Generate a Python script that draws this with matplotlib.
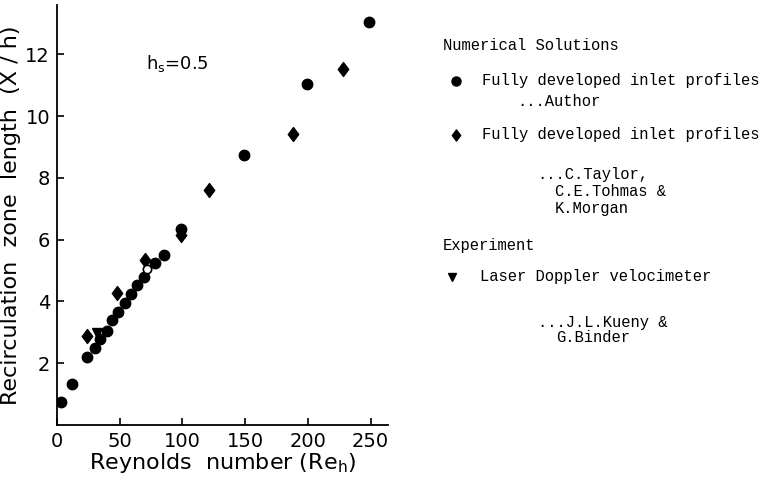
import matplotlib.pyplot as plt
from matplotlib.path import Path

# Numerical solutions, fully developed inlet profiles ... Author
re_author = [3, 12, 24, 30, 34, 40, 44, 49, 54, 59, 64, 69, 78, 85, 99, 149, 199, 249]
xh_author = [0.74, 1.32, 2.2, 2.48, 2.77, 3.05, 3.39, 3.66, 3.94, 4.23, 4.52, 4.78,
             5.25, 5.5, 6.34, 8.74, 11.03, 13.03]

# Numerical solutions ... C.Taylor, C.E.Tohmas & K.Morgan
re_taylor = [24, 48, 70, 99, 121, 188.5, 228]
xh_taylor = [2.88, 4.26, 5.35, 6.15, 7.6, 9.42, 11.53]

# Experiment, laser Doppler velocimeter ... J.L.Kueny & G.Binder
re_ldv = [31.5]
xh_ldv = [2.99]
re_open = [72]
xh_open = [5.05]

xticks = [0, 50, 100, 150, 200, 250]
yticks = [2, 4, 6, 8, 10, 12]

diamond = Path([(0, 1), (0.75, 0), (0, -1), (-0.75, 0), (0, 1)],
               [Path.MOVETO, Path.LINETO, Path.LINETO, Path.LINETO, Path.CLOSEPOLY])

fig = plt.figure(figsize=(7.63, 4.84), dpi=100)
ax = fig.add_axes([0.0747, 0.122, 0.434, 0.868])

ax.plot(re_author, xh_author, "o", color="black", markersize=7.5, zorder=3)
ax.plot(re_taylor, xh_taylor, marker=diamond, ls="none", color="black", markersize=10, zorder=3)
ax.plot(re_ldv, xh_ldv, "v", color="black", markersize=7, zorder=3)
ax.plot(re_open, xh_open, "o", mfc="white", mec="black", markersize=6, mew=1.2, zorder=4)

ax.set_xlim(0, 264)
ax.set_ylim(0, 13.6)
ax.set_xticks(xticks)
ax.set_yticks(yticks)
ax.spines["top"].set_visible(False)
ax.spines["right"].set_visible(False)
ax.spines["left"].set_linewidth(1.3)
ax.spines["bottom"].set_linewidth(1.3)
ax.tick_params(direction="in", length=5, width=1.2, labelsize=14, pad=5)

ax.set_xlabel("Reynolds  number (Re$_{\\mathregular{h}}$)", fontsize=16, labelpad=0)
ax.set_ylabel("Recirculation  zone  length  (X / h)", fontsize=16, labelpad=3)
ax.text(0.27, 0.86, "h$_{\\mathregular{s}}$=0.5", transform=ax.transAxes, fontsize=13,
        va="center")

# legend block drawn as text in figure pixels
W, H = 763, 484
mono = dict(family="Liberation Mono", fontsize=11.2, va="center")


def put(x, y, s):
    fig.text(x / W, 1 - y / H, s, **mono)


def mark(x, y, m, ms):
    fig.lines.append(plt.Line2D([x / W], [1 - y / H], marker=m, color="black",
                                markersize=ms, transform=fig.transFigure))


put(443, 46, "Numerical Solutions")
mark(456, 81, "o", 6.5)
put(482, 81, "Fully developed inlet profiles")
put(517, 102, "...Author")
mark(456, 135, diamond, 8)
put(482, 135, "Fully developed inlet profiles")
put(537, 175, "...C.Taylor,")
put(555, 192, "C.E.Tohmas &")
put(555, 208, "K.Morgan")
put(443, 245, "Experiment")
mark(452, 277, "v", 6)
put(480, 277, "Laser Doppler velocimeter")
put(538, 323, "...J.L.Kueny &")
put(556, 338, "G.Binder")

fig.savefig("out.png", dpi=100)
